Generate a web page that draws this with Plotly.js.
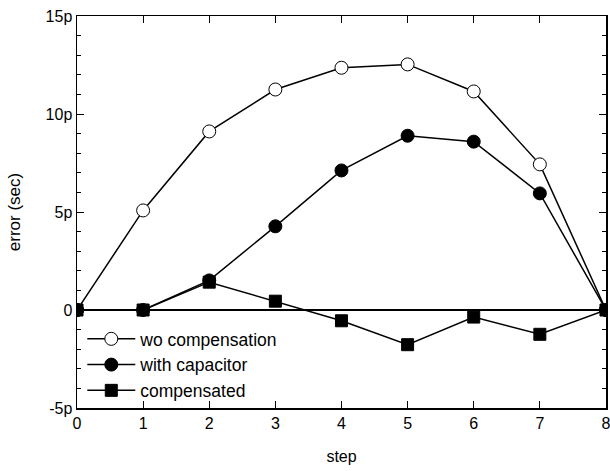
<!DOCTYPE html>
<html><head><meta charset="utf-8">
<script src="https://cdn.plot.ly/plotly-3.0.1.min.js"></script>
<style>body{margin:0;background:#fff}#c{width:610px;height:471px}</style>
</head><body><div id="c"></div>
<script>
const steps = [0,1,2,3,4,5,6,7,8];
const woCompensation = [0,5.08,9.11,11.25,12.36,12.53,11.15,7.43,0];
const withCapacitor = [0,0,1.51,4.27,7.12,8.89,8.59,5.95,0];
const compensated = [0,0,1.42,0.45,-0.55,-1.77,-0.36,-1.24,0];
const yTickVals = [-5,0,5,10,15];
const yTickText = ['-5p','0','5p','10p','15p'];
const xTickVals = [0,1,2,3,4,5,6,7,8];

const font = {family:'Liberation Sans, Arial, sans-serif', size:16, color:'#000'};
const legFont = {family:'Liberation Sans, Arial, sans-serif', size:17.5, color:'#000'};
const line = {color:'#000', width:1.5};
const traces = [
  {x:steps, y:woCompensation, name:'wo compensation', mode:'lines+markers', line:line,
   marker:{symbol:'circle', size:13, color:'#fff', line:{color:'#000', width:1}}},
  {x:steps, y:withCapacitor, name:'with capacitor', mode:'lines+markers', line:line,
   marker:{symbol:'circle', size:13, color:'#000', line:{color:'#000', width:1}}},
  {x:steps, y:compensated, name:'compensated', mode:'lines+markers', line:line,
   marker:{symbol:'square', size:12, color:'#000', line:{color:'#000', width:1}}}
];
const layout = {
  width:610, height:471,
  margin:{l:77, r:4, t:16, b:63},
  paper_bgcolor:'#fff', plot_bgcolor:'#fff',
  font:font,
  showlegend:true,
  legend:{x:0.01, y:0.222, xanchor:'left', yanchor:'top', bgcolor:'rgba(0,0,0,0)', font:legFont, itemwidth:48, tracegroupgap:0},
  xaxis:{range:[0,8.0005], tickvals:xTickVals, ticks:'inside', ticklen:7, tickwidth:1, tickcolor:'#000',
    showline:true, linecolor:'#000', linewidth:1.5, mirror:'allticks', showgrid:false, zeroline:false,
    ticklabeloverflow:'allow',
    title:{text:'step', font:font, standoff:20}, tickfont:font},
  yaxis:{range:[-5,15], tickvals:yTickVals, ticktext:yTickText, ticks:'inside', ticklen:7, tickwidth:1, tickcolor:'#000',
    minor:{dtick:1, ticks:'inside', ticklen:4, tickwidth:1, tickcolor:'#000', showgrid:false},
    showline:true, linecolor:'#000', linewidth:1.5, mirror:'allticks', showgrid:false,
    zeroline:true, zerolinecolor:'#000', zerolinewidth:1.2,
    title:{text:'error (sec)', font:{family:font.family, size:17, color:'#000'}, standoff:20}, tickfont:font}
};
Plotly.newPlot('c', traces, layout, {displayModeBar:false, staticPlot:true});
</script></body></html>
